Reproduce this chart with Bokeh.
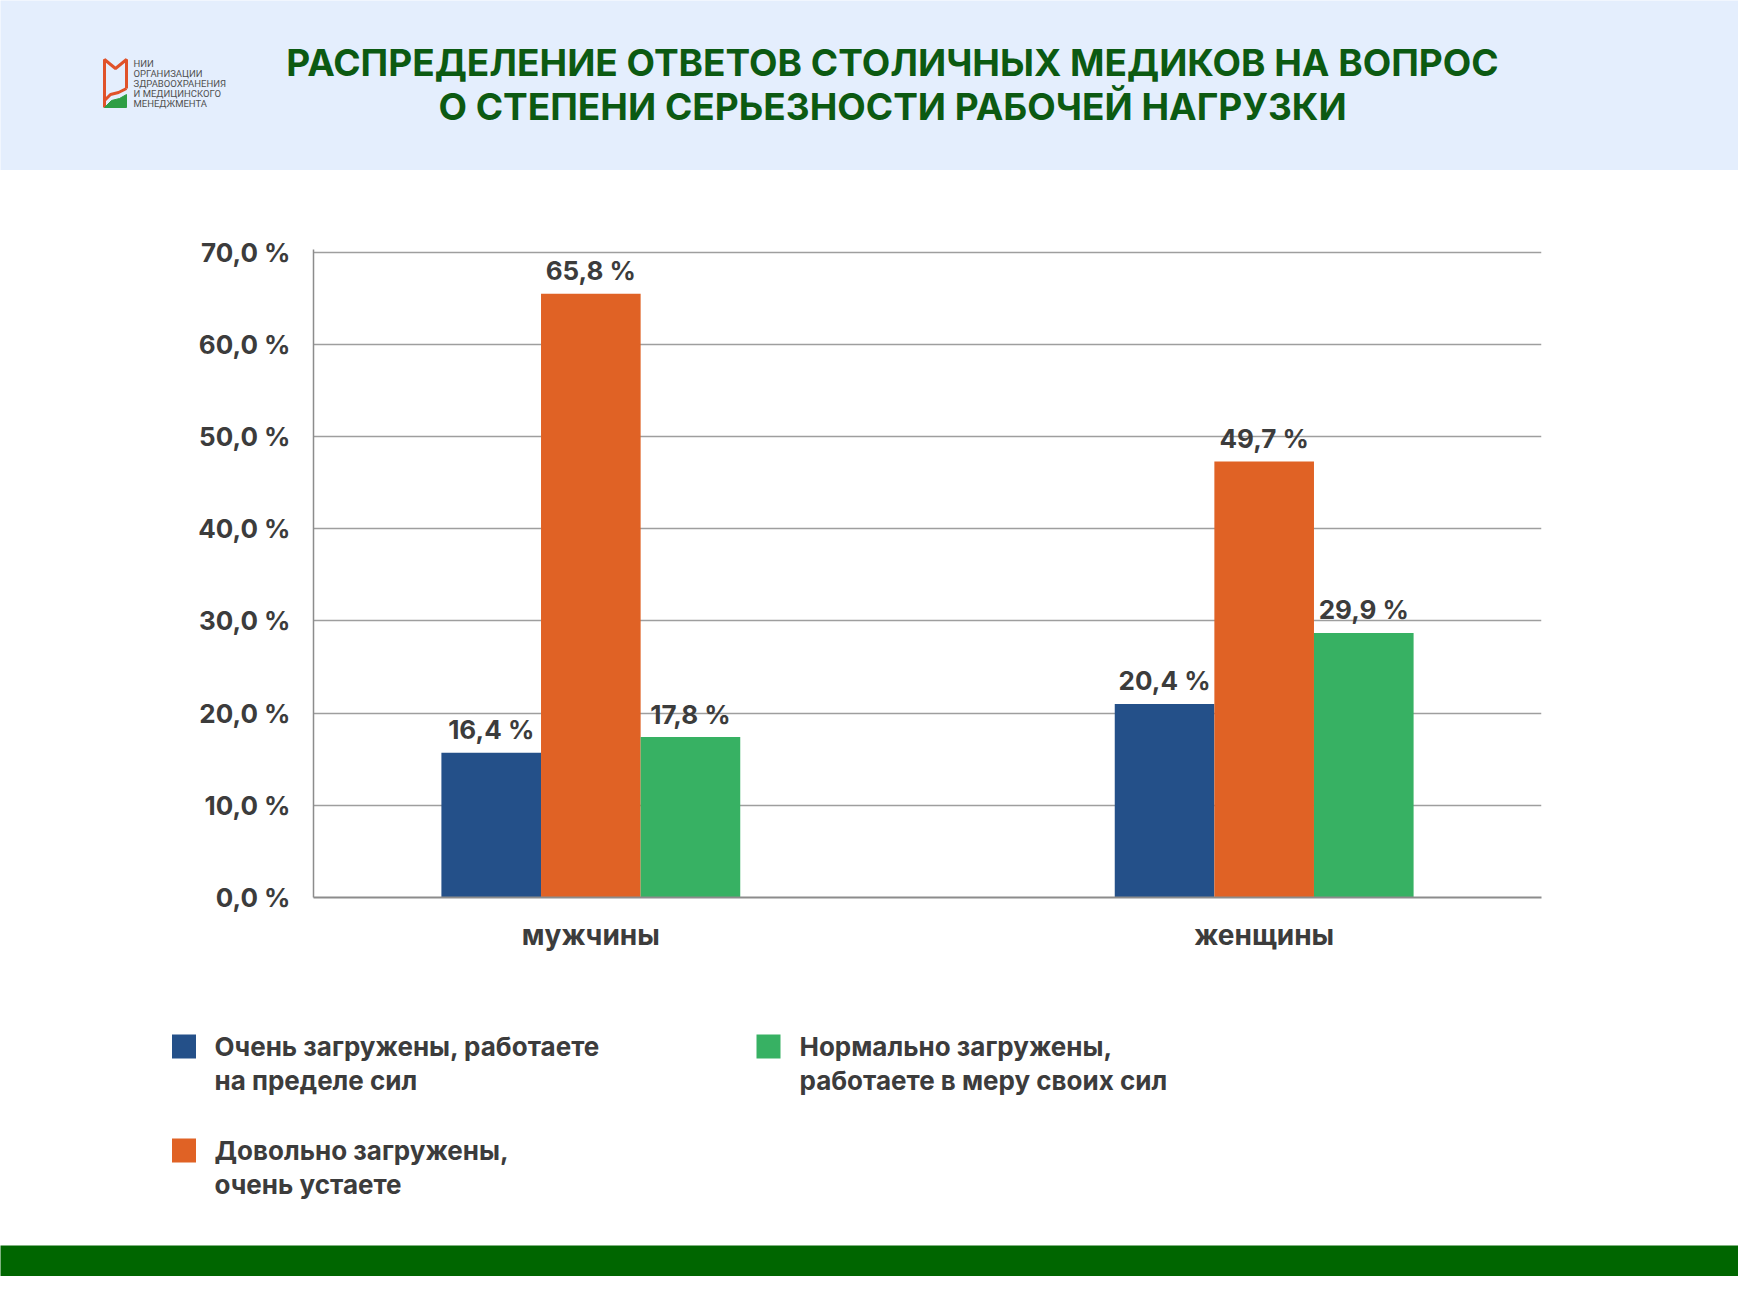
from bokeh.plotting import figure
from bokeh.layouts import column
from bokeh.models import ColumnDataSource, FactorRange, Range1d, FixedTicker
from bokeh.transform import dodge
from bokeh.core.properties import value
from bokeh.embed import file_html
from bokeh.resources import INLINE

# ---------------- data ----------------
categories = ["мужчины", "женщины"]
series_names = [
    "Очень загружены, работаете\nна пределе сил",
    "Довольно загружены,\nочень устаете",
    "Нормально загружены,\nработаете в меру своих сил",
]
series_colors = ["#245089", "#E06225", "#37B163"]
# bar heights as drawn in the picture
very_loaded = [15.7, 21.0]
quite_loaded = [65.5, 47.3]
normal_loaded = [17.4, 28.7]
# printed value labels
very_labels = ["16,4 %", "20,4 %"]
quite_labels = ["65,8 %", "49,7 %"]
normal_labels = ["17,8 %", "29,9 %"]
y_ticks = [0, 10, 20, 30, 40, 50, 60, 70]
y_tick_labels = ["0,0 %", "10,0 %", "20,0 %", "30,0 %", "40,0 %", "50,0 %", "60,0 %", "70,0 %"]
title_lines = ["РАСПРЕДЕЛЕНИЕ ОТВЕТОВ СТОЛИЧНЫХ МЕДИКОВ НА ВОПРОС",
               "О СТЕПЕНИ СЕРЬЕЗНОСТИ РАБОЧЕЙ НАГРУЗКИ"]
logo_lines = ["НИИ", "ОРГАНИЗАЦИИ", "ЗДРАВООХРАНЕНИЯ", "И МЕДИЦИНСКОГО", "МЕНЕДЖМЕНТА"]

FONT = "Inter"
TXT = "#3c3c3c"
W = 1738


def blank(h, bg):
    f = figure(width=W, height=h, x_range=Range1d(0, W), y_range=Range1d(h, 0),
               output_backend="svg", toolbar_location=None, min_border=0, frame_align=False)
    f.axis.visible = False
    f.grid.visible = False
    f.outline_line_color = None
    f.background_fill_color = bg
    f.border_fill_color = bg
    return f


# ---------------- header ----------------
HB = "#E4EEFD"
header = blank(170, HB)
header.text(x=[892, 892], y=[61.5, 106], text=title_lines, text_font=value(FONT),
            text_font_style="bold", text_font_size="37px", text_color="#0C5A12",
            text_align="center", text_baseline="middle")
# logo
header.line(x=[104, 104, 115, 126, 126], y=[107, 59, 68, 59, 88], line_color="#E0522A", line_width=3)
header.line(x=[104, 110, 118, 126], y=[100, 94, 92, 88], line_color="#E0522A", line_width=3)
header.patch(x=[104, 111, 119, 126, 126, 104], y=[107, 100, 98, 94, 107, 107], fill_color="#2E9E45",
             line_color="#2E9E45")
header.text(x=[133] * 5, y=[63, 73, 83, 93, 103], text=logo_lines, text_font=value("Roboto"),
            text_font_size="9.5px", text_color="#505050", text_baseline="middle")

# ---------------- chart ----------------
p = figure(x_range=FactorRange(factors=categories, factor_padding=0.214, range_padding=0),
           y_range=Range1d(0, 70.3), frame_width=1228, frame_height=648,
           min_border_left=313, min_border_right=197, min_border_top=79, min_border_bottom=103,
           output_backend="svg", toolbar_location=None, frame_align=False)
p.outline_line_color = None
p.background_fill_color = "white"
p.border_fill_color = "white"

bw = 0.1796
offsets = [-bw, 0.0, bw]
vals = [very_loaded, quite_loaded, normal_loaded]
labs = [very_labels, quite_labels, normal_labels]
for off, v, lb, col in zip(offsets, vals, labs, series_colors):
    src = ColumnDataSource(dict(cat=categories, val=v, lbl=lb))
    xd = dodge("cat", off, range=p.x_range)
    p.vbar(x=xd, top="val", width=bw, source=src, fill_color=col, line_color=None)
    p.text(x=xd, y="val", text="lbl", source=src, text_font=value(FONT), text_font_style="bold",
           text_font_size="26px", text_color=TXT, text_align="center", text_baseline="middle",
           y_offset=-23)

p.yaxis.ticker = FixedTicker(ticks=y_ticks)
p.yaxis.major_label_overrides = {t: l for t, l in zip(y_ticks, y_tick_labels)}
p.yaxis.major_tick_line_color = None
p.yaxis.minor_tick_line_color = None
p.yaxis.axis_line_color = "#8c8c8c"
p.yaxis.axis_line_width = 1.5
p.yaxis.major_label_standoff = 17
p.yaxis.major_label_text_font = FONT
p.yaxis.major_label_text_font_style = "bold"
p.yaxis.major_label_text_font_size = "26px"
p.yaxis.major_label_text_color = TXT

p.xaxis.major_tick_line_color = None
p.xaxis.minor_tick_line_color = None
p.xaxis.axis_line_color = "#8c8c8c"
p.xaxis.axis_line_width = 2
p.xaxis.major_label_standoff = 14
p.xaxis.major_label_text_font = FONT
p.xaxis.major_label_text_font_style = "bold"
p.xaxis.major_label_text_font_size = "28px"
p.xaxis.major_label_text_color = TXT

p.xgrid.grid_line_color = None
p.ygrid.grid_line_color = "#9e9e9e"
p.ygrid.grid_line_width = 1.5

# ---------------- legend ----------------
leg = blank(245, "white")
leg_sq_x = [183.5, 183.5, 768]
leg_sq_y = [46, 150, 46]
leg_tx_x = [214, 214, 799]
leg.rect(x=leg_sq_x, y=leg_sq_y, width=24, height=24, fill_color=series_colors, line_color=None)
tx, ty, tt = [], [], []
for name, x0, y0 in zip(series_names, leg_tx_x, leg_sq_y):
    for i, line in enumerate(name.split("\n")):
        tx.append(x0)
        ty.append(y0 + i * 34)
        tt.append(line)
leg.text(x=tx, y=ty, text=tt, text_font=value(FONT), text_font_style="bold",
         text_font_size="26px", text_color=TXT, text_baseline="middle")

# ---------------- footer ----------------
footer = blank(31, "#006600")

page = column(header, p, leg, footer, spacing=0)
open("out.html", "w").write(file_html(page, INLINE))
